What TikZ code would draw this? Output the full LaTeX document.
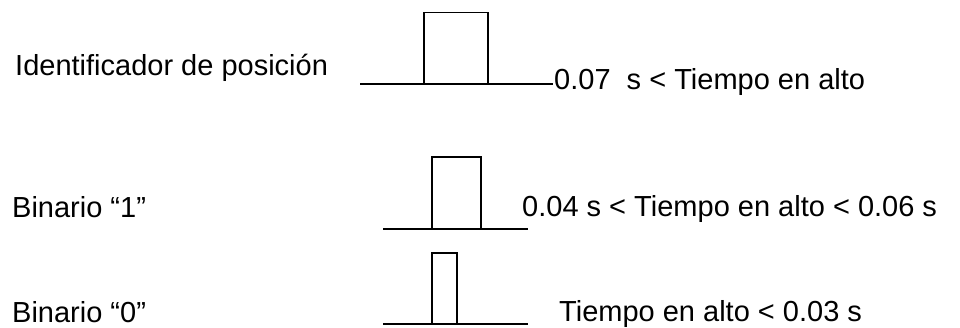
\documentclass[tikz,border=0pt]{standalone}
\usepackage{fontspec}
\setmainfont{Liberation Sans}
\usetikzlibrary{positioning}

\begin{document}
\begin{tikzpicture}[x=1pt, y=1pt]
    \tikzset{label/.style={anchor=base west, inner sep=0pt, font=\fontsize{29}{34}\selectfont},
             level/.style={draw, line width=1.6pt},
             pulse/.style={draw, line width=1.2pt}}
    \useasboundingbox (0,0) rectangle (960,327);

    % Labels
    \node[label] (idlabel)   at (15,251)  {Identificador de posición};
    \node[label] (idcond)    at (554,237) {0.07\ \ s < Tiempo en alto};
    \node[label] (unolabel)  at (12,110)  {Binario “1”};
    \node[label] (unocond)   at (522,111) {0.04 s < Tiempo en alto < 0.06 s};
    \node[label] (cerolabel) at (12,5)    {Binario “0”};
    \node[label] (cerocond)  at (559,6)   {Tiempo en alto < 0.03 s};

    % Pulses
    \draw[level] (360,243) -- (553,243);
    \draw[pulse] (424,243) rectangle (488,314.5);
    \draw[level] (383,98) -- (528,98);
    \draw[pulse] (432,98) rectangle (481,170);
    \draw[level] (383,3) -- (528,3);
    \draw[pulse] (432,3) rectangle (457,74);
\end{tikzpicture}
\end{document}
